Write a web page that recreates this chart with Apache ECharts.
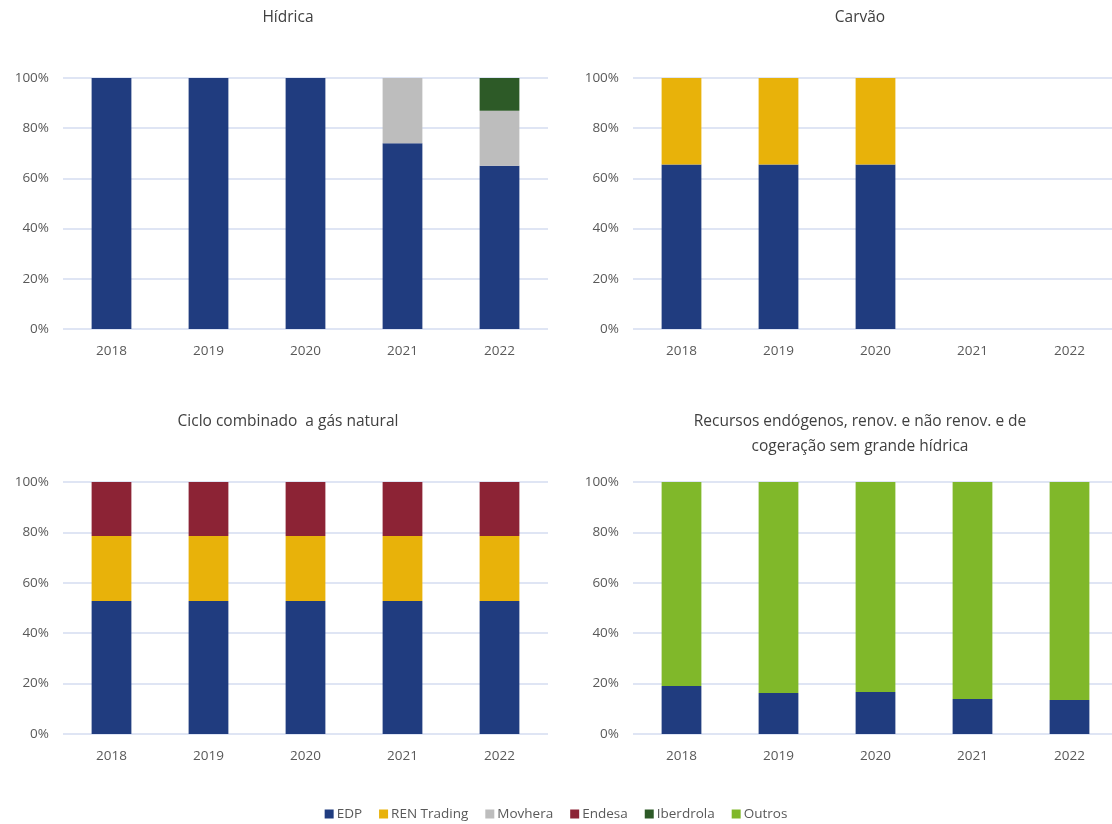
<!DOCTYPE html>
<html>
<head>
<meta charset="utf-8">
<title>Quotas por tecnologia</title>
<script src="https://cdn.jsdelivr.net/npm/echarts@6/dist/echarts.min.js"></script>
<style>
  * { margin: 0; padding: 0 }
  html, body { width: 100%; height: 100%; background: #fff; }
  #main { width: 1112px; height: 824px; }
</style>
</head>
<body>
<div id="main"></div>
<script>
  // anos (eixo x) e ticks do eixo y
  var years = ['2018', '2019', '2020', '2021', '2022'];
  var yTicks = [0, 20, 40, 60, 80, 100];

  // Hídrica
  var hidricaEDP = [100, 100, 100, 74, 65];
  var hidricaMovhera = [0, 0, 0, 26, 22];
  var hidricaIberdrola = [0, 0, 0, 0, 13];

  // Carvão
  var carvaoEDP = [65.5, 65.5, 65.5, null, null];
  var carvaoREN = [34.5, 34.5, 34.5, null, null];

  // Ciclo combinado a gás natural
  var ccgnEDP = [52.8, 52.8, 52.8, 52.8, 52.8];
  var ccgnREN = [25.8, 25.8, 25.8, 25.8, 25.8];
  var ccgnEndesa = [21.4, 21.4, 21.4, 21.4, 21.4];

  // Recursos endógenos ...
  var recEDP = [19, 16.3, 16.7, 13.9, 13.5];
  var recOutros = [81, 83.7, 83.3, 86.1, 86.5];

  var cores = {
    'EDP': '#203c7f',
    'REN Trading': '#e8b20a',
    'Movhera': '#bdbdbd',
    'Endesa': '#8c2335',
    'Iberdrola': '#2d5a27',
    'Outros': '#80b82a'
  };
  var nomes = ['EDP', 'REN Trading', 'Movhera', 'Endesa', 'Iberdrola', 'Outros'];

  var font = "'Open Sans', 'Noto Sans', sans-serif";
  var cinza = '#595959';

  var grids = [
    { left: 63, top: 78, width: 485, height: 251, outerBoundsMode: 'none' },
    { left: 633, top: 78, width: 485, height: 251, outerBoundsMode: 'none' },
    { left: 63, top: 482, width: 485, height: 252, outerBoundsMode: 'none' },
    { left: 633, top: 482, width: 485, height: 252, outerBoundsMode: 'none' }
  ];

  var xAxes = [], yAxes = [];
  for (var i = 0; i < 4; i++) {
    xAxes.push({
      type: 'category', gridIndex: i, data: years,
      axisLine: { show: false }, axisTick: { show: false },
      axisLabel: { color: cinza, fontSize: 13.5, fontFamily: font, margin: 15 }
    });
    yAxes.push({
      type: 'value', gridIndex: i, min: yTicks[0], max: yTicks[yTicks.length - 1], interval: 20,
      axisLine: { show: false }, axisTick: { show: false },
      axisLabel: { color: cinza, fontSize: 13.5, fontFamily: font, formatter: '{value}%', margin: 14 },
      splitLine: { lineStyle: { color: '#d5dcf0', width: 1.5 } }
    });
  }

  function serie(nome, idx, dados, stack) {
    return {
      name: nome, type: 'bar', stack: stack, xAxisIndex: idx, yAxisIndex: idx,
      data: dados, barWidth: '41%',
      itemStyle: { color: cores[nome] }
    };
  }

  var series = [
    serie('EDP', 0, hidricaEDP, 'h'),
    serie('Movhera', 0, hidricaMovhera, 'h'),
    serie('Iberdrola', 0, hidricaIberdrola, 'h'),
    serie('EDP', 1, carvaoEDP, 'c'),
    serie('REN Trading', 1, carvaoREN, 'c'),
    serie('EDP', 2, ccgnEDP, 'g'),
    serie('REN Trading', 2, ccgnREN, 'g'),
    serie('Endesa', 2, ccgnEndesa, 'g'),
    serie('EDP', 3, recEDP, 'r'),
    serie('Outros', 3, recOutros, 'r')
  ];

  function titulo(texto, x, y) {
    return {
      text: texto, left: x, top: y, textAlign: 'center',
      textStyle: { fontSize: 15.5, fontWeight: 'normal', color: '#404040', fontFamily: font, lineHeight: 25 }
    };
  }

  var chart = echarts.init(document.getElementById('main'));
  chart.setOption({
    animation: false,
    title: [
      titulo('Hídrica', 283, 0),
      titulo('Carvão', 855, 0),
      titulo('Ciclo combinado  a gás natural', 283, 404),
      titulo('Recursos endógenos, renov. e não renov. e de\ncogeração sem grande hídrica', 855, 404)
    ],
    legend: {
      data: nomes, top: 802, left: 'center',
      icon: 'rect', itemWidth: 9, itemHeight: 9, itemGap: 17, itemStyle: { borderWidth: 0 },
      textStyle: { color: cinza, fontSize: 13.5, fontFamily: font, padding: [0, 0, 0, -2] }
    },
    grid: grids,
    xAxis: xAxes,
    yAxis: yAxes,
    series: series
  });
</script>
</body>
</html>
